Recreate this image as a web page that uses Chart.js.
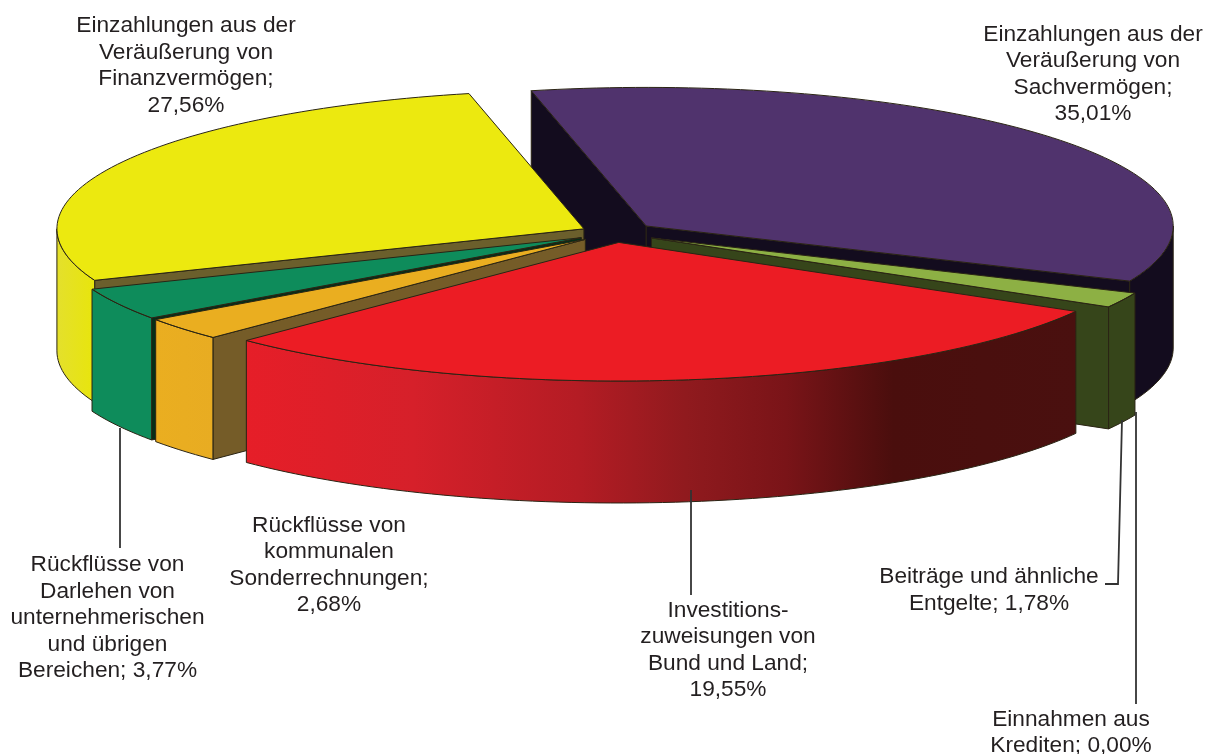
<!DOCTYPE html>
<html lang="de">
<head>
<meta charset="utf-8">
<title>Einzahlungen</title>
<style>
    html, body { margin: 0; padding: 0; background: #fff; }
    canvas { display: block; }
</style>
<script src="https://cdn.jsdelivr.net/npm/chart.js@4/dist/chart.umd.min.js"></script>
</head>
<body>
<canvas id="pieChart" width="1205" height="754"></canvas>
<script>
// ===== DATA =====
const categories = [
    'Einzahlungen aus der\nVeräußerung von\nSachvermögen;',
    'Beiträge und ähnliche\nEntgelte;',
    'Einnahmen aus\nKrediten;',
    'Investitions-\nzuweisungen von\nBund und Land;',
    'Rückflüsse von\nkommunalen\nSonderrechnungen;',
    'Rückflüsse von\nDarlehen von\nunternehmerischen\nund übrigen\nBereichen;',
    'Einzahlungen aus der\nVeräußerung von\nFinanzvermögen;'
];
// what the labels print
const printedPercents = [35.01, 1.78, 0.00, 19.55, 2.68, 3.77, 27.56];
// what the slices measure: the red one is drawn as 29.20 although it is labelled 19,55
const sliceShares = [35.01, 1.78, 0.00, 29.20, 2.68, 3.77, 27.56];

// ===== STYLE =====
const topColors = ['#50336d', '#8db044', '#36451a', '#ec1c24', '#eaae20', '#0e8c5b', '#ece90f'];
const radialColors = ['#130c1e', '#36451a', '#36451a', '#4a0e0c', '#755c28', '#052e18', '#6b5f2c'];
const outerColors = [
    [[0, '#130c1e'], [1, '#130c1e']],
    [[0, '#36451a'], [1, '#36451a']],
    [[0, '#36451a'], [1, '#36451a']],
    [[0, '#e61e28'], [0.2, '#d6202a'], [0.4, '#b41c24'], [0.53, '#901a1e'], [0.65, '#7a1418'], [0.78, '#4a0e0d'], [1, '#4a100f']],
    [[0, '#eaae20'], [1, '#e8ac22']],
    [[0, '#0e8c5b'], [1, '#0e8c5b']],
    [[0, '#e4e02c'], [1, '#e8e50c']]
];
const explodeBy = [41.6, 41, 0, 36, 36.7, 36.5, 34];   // on screen px

const CENTER_X = 614;
const CENTER_Y = 233;
const RADIUS = 527;
const SQUASH = 0.263;
const DEPTH = 122;
const OUTLINE = '#2a2414';

// x = middle of the block, y = first baseline
const labelSpots = [
    { x: 1093, y: 41, line: 26.3 },
    { x: 989, y: 583, line: 26.5, sameLine: true },
    { x: 1071, y: 726, line: 26, sameLine: true },
    { x: 728, y: 617, line: 26.4 },
    { x: 329, y: 532, line: 26.3 },
    { x: 107.5, y: 571, line: 26.5, sameLine: true },
    { x: 186, y: 32, line: 26.7 }
];
const leaderLines = [
    [[120, 428], [120, 548]],
    [[691, 490], [691, 595]],
    [[1122, 420], [1118, 584], [1105, 584]],
    [[1136, 412], [1136, 704]]
];

// ===== 3D PIE =====
function sliceGeometry(arc, i) {
    const { x, y, startAngle, endAngle, outerRadius, circumference } = arc.getProps(
        ['x', 'y', 'startAngle', 'endAngle', 'outerRadius', 'circumference'], true);
    const mid = (startAngle + endAngle) / 2;
    // Arc.draw nudges itself by this much along the mid angle
    const fix = 1 - Math.sin(Math.min(Math.PI, circumference || 0));
    const sx = CENTER_X + Math.cos(mid) * explodeBy[i];
    const sy = CENTER_Y + Math.sin(mid) * explodeBy[i] * SQUASH;
    const ox = sx + Math.cos(mid) * fix;
    const oy = sy + Math.sin(mid) * fix * SQUASH;
    const at = (a) => [ox + Math.cos(a) * outerRadius, oy + Math.sin(a) * outerRadius * SQUASH];
    return { x, y, startAngle, endAngle, mid, sx, sy, apex: [ox, oy], at };
}

function arcPoints(g, from, to) {
    const pts = [];
    const steps = Math.max(4, Math.ceil((to - from) * 40));
    for (let i = 0; i <= steps; i++) {
        pts.push(g.at(from + (to - from) * i / steps));
    }
    return pts;
}

function tracePoly(ctx, pts) {
    ctx.beginPath();
    pts.forEach((p, i) => (i ? ctx.lineTo(p[0], p[1]) : ctx.moveTo(p[0], p[1])));
    ctx.closePath();
}

function fillWall(ctx, pts, fill) {
    tracePoly(ctx, pts);
    ctx.fillStyle = fill;
    ctx.fill();
    ctx.strokeStyle = OUTLINE;
    ctx.lineWidth = 1;
    ctx.stroke();
}

const drop = (p) => [p[0], p[1] + DEPTH];

const pie3d = {
    id: 'pie3d',
    beforeDatasetsDraw(chart) {
        const ctx = chart.ctx;
        const arcs = chart.getDatasetMeta(0).data;
        const order = arcs
            .map((arc, i) => ({ i, arc, g: sliceGeometry(arc, i) }))
            .filter((s) => sliceShares[s.i] > 0)
            .sort((a, b) => Math.sin(a.g.mid) - Math.sin(b.g.mid));

        // walls, back to front
        order.forEach(({ i, g }) => {
            // cut faces, only those turned towards the viewer
            const faces = [];
            if (Math.cos(g.startAngle) < 0) faces.push(g.startAngle);
            if (Math.cos(g.endAngle) > 0) faces.push(g.endAngle);
            faces.forEach((a) => {
                const p = g.at(a);
                fillWall(ctx, [g.apex, p, drop(p), drop(g.apex)], radialColors[i]);
            });
            // only the front half of the rim can be seen
            const from = Math.max(g.startAngle, 0);
            const to = Math.min(g.endAngle, Math.PI);
            if (to <= from) return;
            const pts = arcPoints(g, from, to);
            const grad = ctx.createLinearGradient(
                Math.min(...pts.map((p) => p[0])), 0, Math.max(...pts.map((p) => p[0])), 0);
            outerColors[i].forEach(([stop, c]) => grad.addColorStop(stop, c));
            fillWall(ctx, pts.concat(pts.slice().reverse().map(drop)), grad);
        });

        // the library's own arcs become the top faces
        order.forEach(({ arc, g }) => {
            ctx.save();
            ctx.translate(g.sx, g.sy);
            ctx.scale(1, SQUASH);
            ctx.translate(-g.x, -g.y);
            arc.draw(ctx);
            ctx.restore();
            tracePoly(ctx, [g.apex].concat(arcPoints(g, g.startAngle, g.endAngle)));
            ctx.strokeStyle = OUTLINE;
            ctx.lineWidth = 1;
            ctx.stroke();
        });
        return false;
    },
    afterDraw(chart) {
        const ctx = chart.ctx;

        // leader lines
        ctx.strokeStyle = '#333';
        ctx.lineWidth = 1.8;
        leaderLines.forEach((line) => {
            ctx.beginPath();
            line.forEach((p, i) => (i ? ctx.lineTo(p[0], p[1]) : ctx.moveTo(p[0], p[1])));
            ctx.stroke();
        });

        // labels
        ctx.fillStyle = '#231f20';
        ctx.font = '22.7px "Liberation Sans", Arial, sans-serif';
        ctx.textAlign = 'center';
        ctx.textBaseline = 'alphabetic';
        categories.forEach((cat, i) => {
            const spot = labelSpots[i];
            const pct = printedPercents[i].toFixed(2).replace('.', ',') + '%';
            const lines = cat.split('\n');
            if (spot.sameLine) lines[lines.length - 1] += ' ' + pct;
            else lines.push(pct);
            lines.forEach((text, n) => ctx.fillText(text, spot.x, spot.y + n * spot.line));
        });
    }
};

new Chart(document.getElementById('pieChart'), {
    type: 'pie',
    data: {
        labels: categories.map((c) => c.replace(/\n/g, ' ')),
        datasets: [{
            data: sliceShares,
            backgroundColor: topColors,
            borderWidth: 0,
            hoverOffset: 0,
            clip: false
        }]
    },
    options: {
        responsive: false,
        animation: false,
        rotation: -12.6,
        radius: RADIUS,
        events: [],
        plugins: {
            legend: { display: false },
            tooltip: { enabled: false }
        }
    },
    plugins: [pie3d]
});
</script>
</body>
</html>
